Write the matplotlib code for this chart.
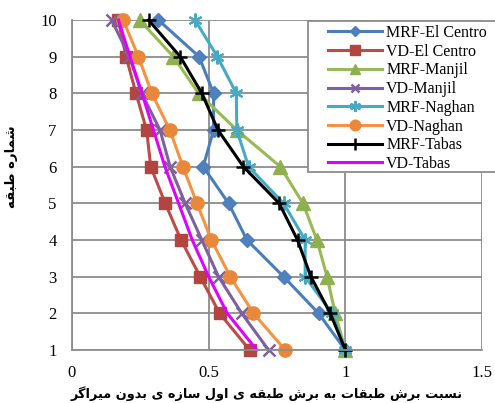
import matplotlib
matplotlib.use("Agg")
import matplotlib.pyplot as plt
from matplotlib.patches import Rectangle

# ---------------- data ----------------
floors = [1, 2, 3, 4, 5, 6, 7, 8, 9, 10]
mrf_elcentro = [1.0, 0.902, 0.774, 0.640, 0.573, 0.480, 0.518, 0.518, 0.465, 0.316]
vd_elcentro = [0.650, 0.540, 0.469, 0.399, 0.341, 0.288, 0.273, 0.234, 0.198, 0.169]
mrf_manjil = [1.0, 0.963, 0.933, 0.896, 0.845, 0.762, 0.603, 0.463, 0.371, 0.247]
vd_manjil = [0.719, 0.621, 0.536, 0.475, 0.414, 0.359, 0.322, 0.255, 0.210, 0.145]
mrf_naghan = [1.0, 0.951, 0.853, 0.853, 0.774, 0.646, 0.603, 0.601, 0.532, 0.450]
vd_naghan = [0.780, 0.664, 0.579, 0.510, 0.457, 0.406, 0.358, 0.292, 0.243, 0.187]
mrf_tabas = [1.0, 0.945, 0.874, 0.825, 0.758, 0.627, 0.534, 0.475, 0.396, 0.280]
vd_tabas = [0.676, 0.568, 0.500, 0.440, 0.390, 0.340, 0.298, 0.256, 0.212, 0.170]

series_names = ["MRF-El Centro", "VD-El Centro", "MRF-Manjil", "VD-Manjil",
                "MRF-Naghan", "VD-Naghan", "MRF-Tabas", "VD-Tabas"]
x_ticks = [0, 0.5, 1, 1.5]
x_tick_labels = ["0", "0.5", "1", "1.5"]
y_ticks = floors

xlabel_text = "نسبت برش طبقات به برش طبقه ی اول سازه ی بدون میراگر"
ylabel_text = "شماره طبقه"

# ---------------- simple Arabic/Persian shaping ----------------
FORMS = {
    'ا': ('\uFE8D', '\uFE8E', None, None),
    'ب': ('\uFE8F', '\uFE90', '\uFE91', '\uFE92'),
    'ت': ('\uFE95', '\uFE96', '\uFE97', '\uFE98'),
    'د': ('\uFEA9', '\uFEAA', None, None),
    'ر': ('\uFEAD', '\uFEAE', None, None),
    'ز': ('\uFEAF', '\uFEB0', None, None),
    'س': ('\uFEB1', '\uFEB2', '\uFEB3', '\uFEB4'),
    'ش': ('\uFEB5', '\uFEB6', '\uFEB7', '\uFEB8'),
    'ط': ('\uFEC1', '\uFEC2', '\uFEC3', '\uFEC4'),
    'ق': ('\uFED5', '\uFED6', '\uFED7', '\uFED8'),
    'ل': ('\uFEDD', '\uFEDE', '\uFEDF', '\uFEE0'),
    'م': ('\uFEE1', '\uFEE2', '\uFEE3', '\uFEE4'),
    'ن': ('\uFEE5', '\uFEE6', '\uFEE7', '\uFEE8'),
    'ه': ('\uFEE9', '\uFEEA', '\uFEEB', '\uFEEC'),
    'و': ('\uFEED', '\uFEEE', None, None),
    'ی': ('\uFBFC', '\uFBFD', '\uFBFE', '\uFBFF'),
    'گ': ('\uFB92', '\uFB93', '\uFB94', '\uFB95'),
}


def shape(text):
    out = []
    n = len(text)
    for i, ch in enumerate(text):
        if ch not in FORMS:
            out.append(ch)
            continue
        iso, fin, ini, med = FORMS[ch]
        prev = text[i - 1] if i > 0 else None
        nxt = text[i + 1] if i < n - 1 else None
        jp = prev is not None and prev in FORMS and FORMS[prev][2] is not None
        jn = ini is not None and nxt is not None and nxt in FORMS
        if jp and jn:
            out.append(med)
        elif jp:
            out.append(fin)
        elif jn:
            out.append(ini)
        else:
            out.append(iso)
    return "".join(out)[::-1]


# ---------------- figure ----------------
plt.rcParams['font.family'] = ['Liberation Serif', 'DejaVu Sans']

W, H = 495, 403
fig = plt.figure(figsize=(W / 100, H / 100), dpi=100)
ax = fig.add_axes([72 / W, 1 - 350 / H, 410 / W, 330 / H])

styles = [
    dict(color='#4A7EBB', marker='D', ms=7, mfc='#4F81BD', mec='#4A7EBB'),
    dict(color='#BE4B48', marker='s', ms=8.5, mfc='#B3443F', mec='#B3443F'),
    dict(color='#98B954', marker='^', ms=9.5, mfc='#8EB04E', mec='#8EB04E'),
    dict(color='#7D60A0', marker='x', ms=8, mew=1.8, mec='#7D60A0'),
    dict(color='#46AAC5', marker=(6, 2, 0), ms=10, mew=1.5, mec='#46AAC5'),
    dict(color='#F69240', marker='o', ms=9.5, mfc='#E9883A', mec='#E9883A'),
    dict(color='#000000', marker='+', ms=10, mew=1.8, mec='#000000'),
    dict(color='#E100FF', marker=None),
]
all_series = [mrf_elcentro, vd_elcentro, mrf_manjil, vd_manjil,
              mrf_naghan, vd_naghan, mrf_tabas, vd_tabas]

for name, vals, st in zip(series_names, all_series, styles):
    ax.plot(vals, floors, lw=2.2, label=name, clip_on=False, **st)

ax.set_xlim(0, 1.5)
ax.set_ylim(1, 10)
ax.set_xticks(x_ticks)
ax.set_xticklabels(x_tick_labels)
ax.set_yticks(y_ticks)
ax.tick_params(length=0, labelsize=12, pad=11)
ax.grid(True, color='#8C8C8C', lw=1.3)
ax.set_axisbelow(True)
for s in ['top', 'right']:
    ax.spines[s].set_visible(False)
for s in ['left', 'bottom']:
    ax.spines[s].set_color('#8C8C8C')
    ax.spines[s].set_linewidth(1.3)

# legend frame drawn separately (wide horizontal padding like the original)
frame = Rectangle((308 / W, 1 - 172 / H), 200 / W, 151 / H,
                  transform=fig.transFigure, facecolor='white',
                  edgecolor='#8C8C8C', lw=1.3, zorder=5)
fig.add_artist(frame)

leg = ax.legend(loc='upper left', bbox_to_anchor=(328 / W, 1 - 25 / H),
                bbox_transform=fig.transFigure, fontsize=11.5, frameon=False,
                handlelength=3.4, handletextpad=0.25, labelspacing=0.17,
                borderpad=0.0, borderaxespad=0, markerscale=0.8)
leg.set_zorder(6)
leg.remove()
fig.add_artist(leg)

fig.text(267 / W, 1 - 394 / H, shape(xlabel_text), ha='center', va='center',
         fontsize=9.3, fontweight='bold', family=['DejaVu Sans'])
fig.text(12 / W, 1 - 167 / H, shape(ylabel_text), ha='center', va='center',
         rotation=90, fontsize=9.5, fontweight='bold', family=['DejaVu Sans'])

fig.savefig('out.png', dpi=100)
